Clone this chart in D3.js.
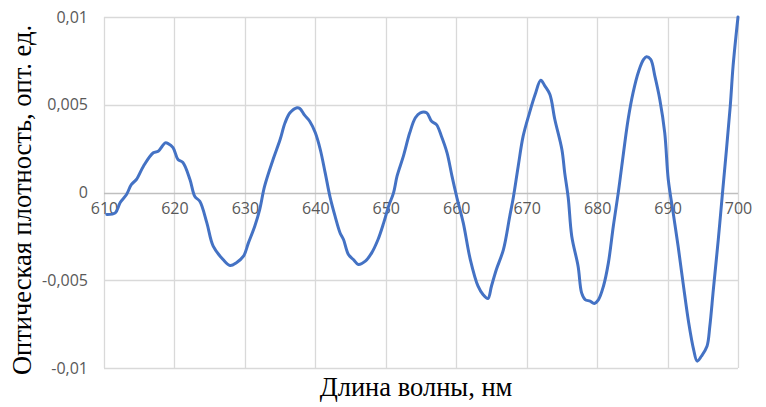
<!DOCTYPE html>
<html>
<head>
<meta charset="utf-8">
<script src="https://cdn.jsdelivr.net/npm/d3@7"></script>
<style>
  html, body { margin: 0; padding: 0; background: #fff; }
  svg { display: block; }
</style>
</head>
<body>
<svg id="chart" width="766" height="407"></svg>
<script>
const wavelength = [610.4,611.6,612.3,613.2,613.9,614.6,615.6,617.0,617.7,618.7,619.1,619.8,620.5,621.2,622.2,622.9,623.6,624.6,625.5,626.9,627.9,628.8,629.8,630.5,631.4,632.1,632.8,634.0,635.0,635.7,636.4,637.4,637.8,638.5,639.2,640.0,640.7,641.4,642.1,642.8,643.5,644.0,644.7,645.4,646.1,647.1,648.0,648.9,649.7,650.4,651.1,651.6,652.5,653.4,654.2,654.9,655.8,656.5,657.2,657.9,658.7,659.4,660.1,661.0,662.0,663.1,663.8,664.5,665.0,665.7,666.7,667.6,668.1,668.8,669.5,670.4,671.2,672.0,672.6,673.3,674.0,675.0,675.4,675.9,676.4,677.3,677.8,678.3,679.0,679.6,680.2,680.9,681.6,682.3,683.0,683.5,684.4,685.1,685.9,686.6,687.0,687.6,688.2,688.9,689.6,690.1,690.8,691.5,692.2,693.0,693.7,694.2,694.8,695.6,696.0,696.5,697.2,697.8,698.9,699.3,700.0];
const density = [-0.00125,-0.00116,-0.00057,-0.00011,0.00046,0.00074,0.0015,0.00226,0.00235,0.00283,0.00279,0.00256,0.00188,0.00171,0.00074,-0.00023,-0.0005,-0.00173,-0.00306,-0.00382,-0.00416,-0.004,-0.00363,-0.00287,-0.00192,-0.00097,0.00036,0.00188,0.00302,0.00397,0.00454,0.00483,0.00479,0.00439,0.00406,0.0034,0.00245,0.00112,-0.00028,-0.00135,-0.00229,-0.00268,-0.00353,-0.00382,-0.0041,-0.00391,-0.00344,-0.00268,-0.00173,-0.00078,-0.00002,0.00093,0.00207,0.0034,0.00426,0.00454,0.00454,0.00406,0.00387,0.00321,0.00226,0.00093,-0.0003,-0.00173,-0.00382,-0.00534,-0.00581,-0.00604,-0.00534,-0.00439,-0.00325,-0.00135,-0.0003,0.0015,0.00321,0.00454,0.00558,0.0064,0.00606,0.00558,0.00416,0.00245,0.00112,-0.0003,-0.00249,-0.0042,-0.00572,-0.0061,-0.00619,-0.00632,-0.0061,-0.00534,-0.00401,-0.00192,-0.00002,0.0015,0.00416,0.00568,0.00691,0.00758,0.00773,0.00758,0.00663,0.0053,0.0034,0.00074,-0.00116,-0.00306,-0.00515,-0.00742,-0.00895,-0.00961,-0.00933,-0.00876,-0.00762,-0.00553,-0.00268,-0.00002,0.00492,0.0072,0.0100];
const xTicks = [610,620,630,640,650,660,670,680,690,700];
const yTicks = [-0.01,-0.005,0,0.005,0.01];
const yTickLabels = ["-0,01","-0,005","0","0,005","0,01"];
const xTitle = "Длина волны, нм";
const yTitle = "Оптическая плотность, опт. ед.";

const svg = d3.select("#chart");
const W = 766, H = 407;
const m = {left: 104, right: 28, top: 17, bottom: 39};
const x = d3.scaleLinear().domain([610, 700]).range([m.left, W - m.right]);
const y = d3.scaleLinear().domain([-0.01, 0.01]).range([H - m.bottom, m.top]);

const tickFont = "'Open Sans', 'Liberation Sans', sans-serif";
const grid = svg.append("g");
grid.selectAll("line.v").data(xTicks).join("line")
  .attr("x1", d => Math.round(x(d)) + 0.5).attr("x2", d => Math.round(x(d)) + 0.5)
  .attr("y1", y(0.01)).attr("y2", y(-0.01))
  .attr("stroke", "#d9d9d9").attr("stroke-width", 1.3);
grid.selectAll("line.h").data(yTicks).join("line")
  .attr("x1", x(610)).attr("x2", x(700))
  .attr("y1", d => Math.round(y(d)) + 0.5).attr("y2", d => Math.round(y(d)) + 0.5)
  .attr("stroke", d => d === 0 ? "#bfbfbf" : "#d9d9d9").attr("stroke-width", 1.3);

// y tick labels
const yAxis = d3.axisLeft(y).tickValues(yTicks).tickSize(0).tickPadding(0)
  .tickFormat((d, i) => yTickLabels[i]);
const ya = svg.append("g").attr("transform", `translate(${m.left - 16},0)`).call(yAxis);
ya.select(".domain").remove();
ya.selectAll("text").attr("font-family", tickFont).attr("font-size", 16).attr("fill", "#595959");

// x tick labels (positioned below zero line)
const xAxis = d3.axisBottom(x).tickValues(xTicks).tickSize(0).tickPadding(0).tickFormat(d3.format("d"));
const xa = svg.append("g").attr("transform", `translate(0,${y(0) + 16})`).call(xAxis);
xa.select(".domain").remove();
xa.selectAll("text").attr("font-family", tickFont).attr("font-size", 16).attr("fill", "#595959")
  .attr("dy", "0.32em").attr("y", 0);

// line
const line = d3.line()
  .x((d, i) => x(wavelength[i]))
  .y(d => y(d))
  .curve(d3.curveCatmullRom.alpha(0.5));
svg.append("path").datum(density)
  .attr("d", line)
  .attr("fill", "none")
  .attr("stroke", "#4472C4")
  .attr("stroke-width", 3)
  .attr("stroke-linejoin", "round")
  .attr("stroke-linecap", "round");

// titles
svg.append("text").text(xTitle)
  .attr("x", 416).attr("y", 396)
  .attr("text-anchor", "middle")
  .attr("font-family", "'Liberation Serif', 'Times New Roman', serif")
  .attr("font-size", 26.5).attr("fill", "#000");
svg.append("text").text(yTitle)
  .attr("transform", "translate(31,200) rotate(-90)")
  .attr("text-anchor", "middle")
  .attr("font-family", "'Liberation Serif', 'Times New Roman', serif")
  .attr("font-size", 26.5).attr("fill", "#000");
</script>
</body>
</html>
